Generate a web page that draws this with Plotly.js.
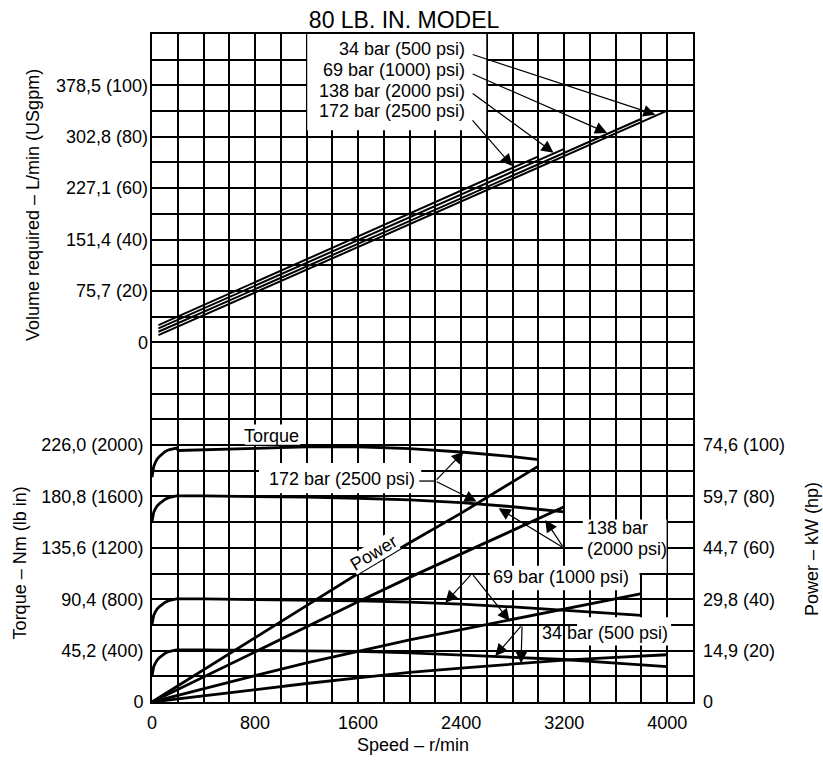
<!DOCTYPE html>
<html><head><meta charset="utf-8">
<script src="https://cdn.plot.ly/plotly-3.0.1.min.js"></script>
<style>html,body{margin:0;padding:0;background:#fff}#chart{width:823px;height:760px}</style>
</head><body><div id="chart"></div>
<script>
// ---------- Volume required (USgpm) vs speed (r/min)
const volSpeed172 = [50, 3000];
const vol172 = [6.7, 72.4];
const volSpeed138 = [50, 3200];
const vol138 = [5.4, 75.3];
const volSpeed69 = [50, 3800];
const vol69 = [4.1, 87.0];
const volSpeed34 = [50, 4000];
const vol34 = [2.8, 90.2];

// ---------- Torque (lb in) vs speed (r/min)
const tqSpeed172 = [0, 5, 13, 25, 39, 58, 78, 103, 130, 160, 190, 205, 400, 800, 1200, 1600, 2000, 2400, 2800, 3000];
const tq172 = [1750, 1800, 1832, 1862, 1890, 1912, 1932, 1950, 1963, 1972, 1977, 1958, 1962, 1975, 1987, 1987, 1972, 1946, 1910, 1887];
const tqSpeed138 = [0, 5, 13, 25, 39, 58, 78, 103, 130, 160, 190, 400, 800, 1200, 1600, 2000, 2400, 2800, 3200];
const tq138 = [1405, 1450, 1476, 1502, 1525, 1545, 1562, 1579, 1591, 1599, 1604, 1604, 1600, 1595, 1586, 1574, 1552, 1520, 1480];
const tqSpeed69 = [0, 5, 13, 25, 39, 58, 78, 103, 130, 160, 190, 400, 800, 1200, 1600, 2000, 2400, 2800, 3200, 3600, 3800];
const tq69 = [603, 648, 674, 700, 723, 743, 760, 777, 789, 797, 802, 802, 798, 794, 788, 778, 762, 740, 715, 688, 674];
const tqSpeed34 = [0, 5, 13, 25, 39, 58, 78, 103, 130, 160, 190, 400, 800, 1200, 1600, 2000, 2400, 2800, 3200, 3600, 4000];
const tq34 = [202, 248, 275, 301, 325, 346, 363, 380, 393, 402, 406, 405, 403, 399, 394, 383, 367, 350, 331, 303, 275];

// ---------- Power (hp) vs speed (r/min)
const pwSpeed172 = [0, 400, 800, 1200, 1600, 2000, 2400, 2800, 3000];
const pw172 = [0, 12.4, 24.8, 37.5, 50, 62, 73.5, 85.5, 91.8];
const pwSpeed138 = [0, 400, 800, 1200, 1600, 2000, 2400, 2800, 3200];
const pw138 = [0, 9.8, 19.5, 29.2, 39, 48.5, 57.5, 66.8, 76];
const pwSpeed69 = [0, 400, 800, 1200, 1600, 2000, 2400, 2800, 3200, 3600, 3800];
const pw69 = [0, 5.2, 10.3, 15.2, 19.8, 24.2, 28.2, 32.2, 36.2, 40.2, 42.2];
const pwSpeed34 = [0, 400, 800, 1200, 1600, 2000, 2400, 2800, 3200, 3600, 4000];
const pw34 = [0, 2.4, 4.9, 7.2, 9.4, 11.5, 13.2, 14.8, 16.3, 17.4, 18.4];

// ---------- Tick labels
const speedGrid = [0,200,400,600,800,1000,1200,1400,1600,1800,2000,2200,2400,2600,2800,3000,3200,3400,3600,3800,4000,4200];
const speedTickVals = [0, 800, 1600, 2400, 3200, 4000];
const speedTickText = ['0', '800', '1600', '2400', '3200', '4000'];
const torqueGrid = [0,200,400,600,800,1000,1200,1400,1600,1800,2000,2200,2400,2600,2800,3000,3200,3400,3600,3800,4000,4200,4400,4600,4800,5000,5200];
const torqueTickVals = [0, 400, 800, 1200, 1600, 2000];
const torqueTickText = ['0', '45,2 (400)', '90,4 (800)', '135,6 (1200)', '180,8 (1600)', '226,0 (2000)'];
const volTickVals = [0, 20, 40, 60, 80, 100];
const volTickText = ['0', '75,7 (20)', '151,4 (40)', '227,1 (60)', '302,8 (80)', '378,5 (100)'];
const powTickVals = [0, 20, 40, 60, 80, 100];
const powTickText = ['0', '14,9 (20)', '29,8 (40)', '44,7 (60)', '59,7 (80)', '74,6 (100)'];

const BLACK = '#000';
const FONT = 'Liberation Sans, Arial, Helvetica, sans-serif';

function line(x, y, yaxis, w) {
  return {x: x, y: y, yaxis: yaxis, type: 'scatter', mode: 'lines',
          line: {color: BLACK, width: w}, hoverinfo: 'skip'};
}

const traces = [
  line(volSpeed172, vol172, 'y2', 2),
  line(volSpeed138, vol138, 'y2', 2),
  line(volSpeed69, vol69, 'y2', 2),
  line(volSpeed34, vol34, 'y2', 2),
  line(tqSpeed172, tq172, 'y', 2.8),
  line(tqSpeed138, tq138, 'y', 2.8),
  line(tqSpeed69, tq69, 'y', 2.8),
  line(tqSpeed34, tq34, 'y', 2.8),
  line(pwSpeed172, pw172, 'y3', 2.8),
  line(pwSpeed138, pw138, 'y3', 2.8),
  line(pwSpeed69, pw69, 'y3', 2.8),
  line(pwSpeed34, pw34, 'y3', 2.8)
];

function arrow(x, y, ax, ay, yref) {
  return {x: x, y: y, ax: ax, ay: ay, xref: 'x', yref: yref, axref: 'x', ayref: yref,
          text: '', showarrow: true, arrowhead: 2, arrowsize: 2, arrowwidth: 1.2,
          arrowcolor: BLACK, standoff: 0};
}
function label(text, x, y, yref, xanchor, extra) {
  const a = {text: text, x: x, y: y, xref: 'x', yref: yref, showarrow: false,
             xanchor: xanchor || 'center', yanchor: 'middle',
             font: {family: FONT, size: 18, color: BLACK}};
  return Object.assign(a, extra || {});
}
function paperLabel(text, x, y, angle) {
  return {text: text, x: x, y: y, xref: 'paper', yref: 'paper', showarrow: false,
          xanchor: 'center', yanchor: 'middle', textangle: angle,
          font: {family: FONT, size: 18, color: BLACK}};
}
function box(x0, x1, y0, y1) {
  return {type: 'rect', xref: 'x', yref: 'y', x0: x0, x1: x1, y0: y0, y1: y1,
          fillcolor: '#fff', line: {width: 0}, layer: 'between'};
}

const annotations = [
  // upper panel labels
  label('34 bar (500 psi)', 2442, 114.2, 'y2', 'right'),
  label('69 bar (1000) psi)', 2442, 106.0, 'y2', 'right'),
  label('138 bar (2000 psi)', 2442, 98.0, 'y2', 'right'),
  label('172 bar (2500 psi)', 2442, 90.0, 'y2', 'right'),
  arrow(3908, 88.6, 2478, 112.2, 'y2'),
  arrow(3533, 81.5, 2478, 104.7, 'y2'),
  arrow(3117, 73.8, 2478, 97.3, 'y2'),
  arrow(2797, 68.6, 2478, 87.0, 'y2'),
  // lower panel labels
  label('Torque', 925, 2072, 'y'),
  label('172 bar (2500 psi)', 1478, 1739, 'y'),
  arrow(2419, 1949, 2199, 1720, 'y'),
  arrow(2520, 1560, 2199, 1720, 'y'),
  label('138 bar', 3364, 1357, 'y', 'left'),
  label('(2000 psi)', 3364, 1194, 'y', 'left'),
  arrow(2691, 1508, 3196, 1200, 'y'),
  arrow(3053, 1417, 3196, 1200, 'y'),
  label('69 bar (1000 psi)', 3178, 974, 'y'),
  arrow(2277, 773, 2484, 1000, 'y'),
  arrow(2776, 631, 2484, 1000, 'y'),
  label('34 bar (500 psi)', 3519, 541, 'y'),
  arrow(2665, 358, 2873, 600, 'y'),
  arrow(2865, 301, 2873, 600, 'y'),
  label('Power', 1720, 1162, 'y', 'center', {textangle: -31, bgcolor: '#fff', borderpad: 0, borderwidth: 0}),
  // axis titles
  paperLabel('Volume required – L/min (USgpm)', -0.22, 0.744, -90),
  paperLabel('Torque – Nm (lb in)', -0.244, 0.209, -90),
  paperLabel('Power – kW (hp)', 1.22, 0.229, -90),
  paperLabel('Speed – r/min', 0.4824, -0.0644, 0)
];

const shapes = [
  box(1205, 2595, 4450, 5200),
  box(720, 1150, 2003, 2160),
  box(830, 2090, 1625, 1860),
  box(3345, 3995, 1005, 1420),
  box(2622, 3785, 870, 1060),
  box(3300, 4030, 440, 660),
  {type: 'line', xref: 'x', yref: 'y', x0: 2075, x1: 2199, y0: 1720, y1: 1720,
   line: {color: BLACK, width: 1.3}, layer: 'above'}
];

const gridAxis = {showgrid: true, gridcolor: BLACK, gridwidth: 2, zeroline: false,
                  showline: true, mirror: true, linecolor: BLACK, linewidth: 2,
                  ticks: '', fixedrange: true, tickmode: 'array'};

const layout = {
  width: 823, height: 760,
  margin: {l: 152, r: 130, t: 34, b: 58, pad: 0},
  paper_bgcolor: '#fff', plot_bgcolor: '#fff',
  showlegend: false,
  font: {family: FONT, size: 18, color: BLACK},
  title: {text: '80 LB. IN. MODEL', font: {family: FONT, size: 23, color: BLACK},
          x: 0.491, xref: 'container', xanchor: 'center',
          y: 0.974, yref: 'container', yanchor: 'middle'},
  xaxis: Object.assign({}, gridAxis, {
    range: [0, 4200], tickvals: speedGrid, ticklabelstandoff: 3,
    ticktext: speedGrid.map(v => { const i = speedTickVals.indexOf(v); return i >= 0 ? speedTickText[i] : ''; })
  }),
  yaxis: Object.assign({}, gridAxis, {
    range: [0, 5200], tickvals: torqueGrid, ticklabelstandoff: 3,
    ticktext: torqueGrid.map(v => { const i = torqueTickVals.indexOf(v); return i >= 0 ? torqueTickText[i] : ''; })
  }),
  yaxis2: {overlaying: 'y', side: 'left', range: [-140, 120], tickmode: 'array',
           tickvals: volTickVals, ticktext: volTickText, showgrid: false, zeroline: false,
           showline: false, ticks: '', fixedrange: true, ticklabelstandoff: 3},
  yaxis3: {overlaying: 'y', side: 'right', range: [0, 260], tickmode: 'array',
           tickvals: powTickVals, ticktext: powTickText, showgrid: false, zeroline: false,
           showline: false, ticks: '', fixedrange: true, ticklabelstandoff: 9},
  annotations: annotations,
  shapes: shapes
};

Plotly.newPlot('chart', traces, layout, {staticPlot: true, displayModeBar: false});
</script>
</body></html>
